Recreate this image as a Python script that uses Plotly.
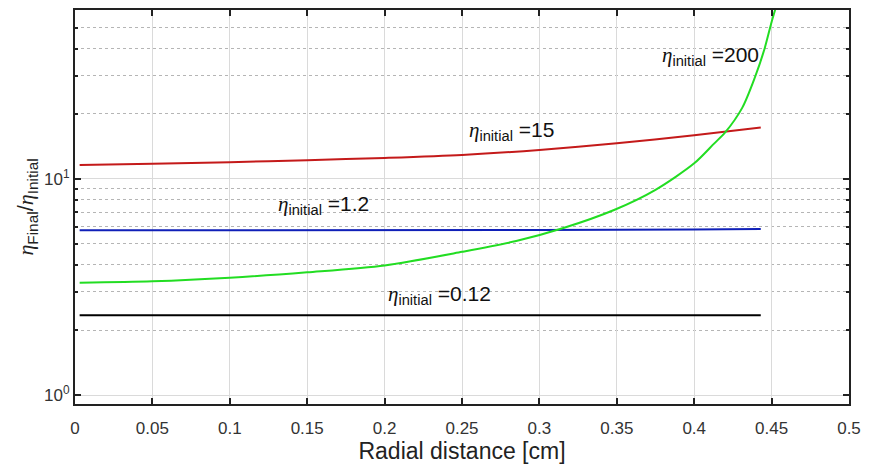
import math
import plotly.graph_objects as go

# ---- data ----
x_flat = [0.003, 0.1, 0.2, 0.3, 0.4, 0.443]
black_y = [2.34, 2.34, 2.34, 2.34, 2.34, 2.34]
blue_y = [5.78, 5.78, 5.79, 5.81, 5.83, 5.86]

red_x = [0.003, 0.05, 0.1, 0.15, 0.2, 0.25, 0.3, 0.35, 0.4, 0.443]
red_y = [11.6, 11.75, 11.95, 12.2, 12.5, 12.9, 13.6, 14.6, 15.9, 17.3]

green_x = [0.003, 0.05, 0.1, 0.15, 0.2, 0.25, 0.285, 0.315, 0.349, 0.375,
           0.4, 0.413, 0.42, 0.431, 0.439, 0.4455, 0.45, 0.453]
green_y = [3.31, 3.36, 3.49, 3.70, 3.98, 4.6, 5.16, 5.91, 7.22, 8.9,
           11.8, 14.6, 16.4, 21.3, 29.2, 40.1, 53.2, 63.0]

x_ticks = [0, 0.05, 0.1, 0.15, 0.2, 0.25, 0.3, 0.35, 0.4, 0.45, 0.5]
x_ticktext = ["0", "0.05", "0.1", "0.15", "0.2", "0.25", "0.3", "0.35", "0.4", "0.45", "0.5"]
y_ticks = [1, 10]
y_ticktext = ["10<sup>0</sup>", "10<sup>1</sup>"]
y_minor = [2, 3, 4, 5, 6, 7, 8, 9, 20, 30, 40, 50, 60]

labels = ["200", "15", "1.2", "0.12"]
label_x = [0.378, 0.253, 0.130, 0.2006]
label_y = [37.0, 16.6, 7.6, 2.92]

ETA = "<span style='font-family:Liberation Serif;font-style:italic'>η</span>"

fig = go.Figure()
fig.add_trace(go.Scatter(x=x_flat, y=black_y, mode="lines", line=dict(color="#000000", width=2)))
fig.add_trace(go.Scatter(x=x_flat, y=blue_y, mode="lines", line=dict(color="#1020b8", width=2)))
fig.add_trace(go.Scatter(x=red_x, y=red_y, mode="lines",
                         line=dict(color="#c41a1a", width=2, shape="spline", smoothing=0.8)))
fig.add_trace(go.Scatter(x=green_x, y=green_y, mode="lines",
                         line=dict(color="#22dd22", width=2, shape="spline", smoothing=0.8)))

for t, xx, yy in zip(labels, label_x, label_y):
    fig.add_annotation(
        x=xx, y=math.log10(yy), xref="x", yref="y", showarrow=False,
        xanchor="left", yanchor="middle",
        text=ETA + "<sub>initial</sub> =" + t,
        font=dict(family="Liberation Sans, Arial", size=21, color="#111111"),
    )

fig.update_layout(
    width=869, height=465, autosize=False,
    margin=dict(l=75, r=10, t=8, b=52),
    paper_bgcolor="white", plot_bgcolor="white",
    showlegend=False,
    font=dict(family="Liberation Sans, Arial", color="#222222"),
)
fig.update_xaxes(
    range=[0, 0.5], tickvals=x_ticks, ticktext=x_ticktext,
    ticks="inside", ticklen=6, tickwidth=1.5, tickcolor="#222222",
    showline=True, linecolor="#222222", linewidth=2, mirror="ticks",
    showgrid=True, gridcolor="#dadada", gridwidth=1, zeroline=False,
    tickfont=dict(size=17, color="#333333"), ticklabelstandoff=8,
    ticklabeloverflow="allow",
    title=dict(text="Radial distance [cm]", font=dict(size=23, color="#222222"), standoff=2),
)
fig.update_yaxes(
    type="log", range=[-0.041, 1.781], tickvals=y_ticks, ticktext=y_ticktext,
    ticks="inside", ticklen=6, tickwidth=1.5, tickcolor="#222222",
    showline=True, linecolor="#222222", linewidth=2, mirror="ticks",
    showgrid=True, gridcolor="#dadada", gridwidth=1, zeroline=False,
    tickfont=dict(size=17, color="#333333"),
    minor=dict(tickvals=y_minor, ticks="inside", ticklen=3, tickcolor="#222222",
               showgrid=True, gridcolor="#b5b5b5", griddash="dot", gridwidth=1),
    title=dict(text=ETA + "<sub>Final</sub>/" + ETA + "<sub>Initial</sub>",
               font=dict(size=22, color="#222222"), standoff=4),
)

fig.write_html(
    "out.html",
    config={"displayModeBar": False, "responsive": False},
    post_script="document.body.style.margin='0px';document.body.style.overflow='hidden';",
)
